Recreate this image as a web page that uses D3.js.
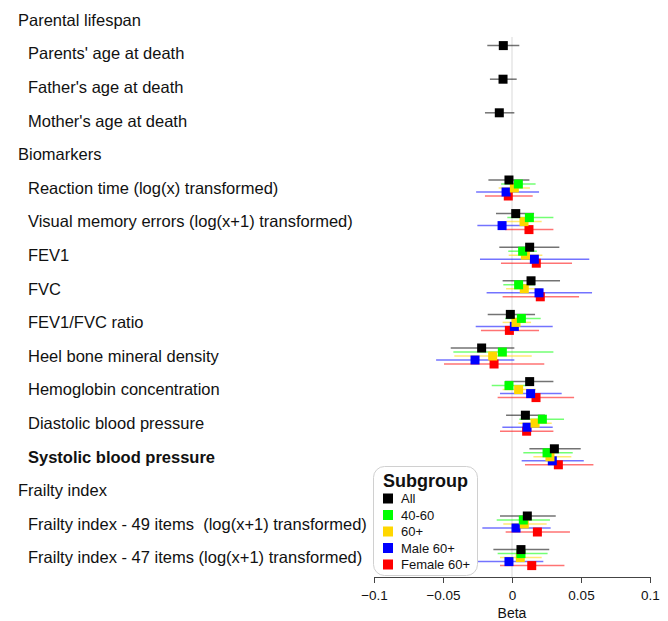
<!DOCTYPE html>
<html><head><meta charset="utf-8">
<script src="https://cdn.jsdelivr.net/npm/d3@7"></script>
<style>html,body{margin:0;padding:0;background:#fff;overflow:hidden}</style>
</head><body>
<svg id="chart" width="668" height="621"></svg>
<script>
// ---- data ----
const rowLabels = [
  "Parental lifespan",
  "Parents' age at death",
  "Father's age at death",
  "Mother's age at death",
  "Biomarkers",
  "Reaction time (log(x) transformed)",
  "Visual memory errors (log(x+1) transformed)",
  "FEV1",
  "FVC",
  "FEV1/FVC ratio",
  "Heel bone mineral density",
  "Hemoglobin concentration",
  "Diastolic blood pressure",
  "Systolic blood pressure",
  "Frailty index",
  "Frailty index - 49 items  (log(x+1) transformed)",
  "Frailty index - 47 items (log(x+1) transformed)"
];
const headerRows = ["Parental lifespan", "Biomarkers", "Frailty index"];
const boldRows = ["Systolic blood pressure"];
const items = rowLabels.filter(r => !headerRows.includes(r));

const subgroups = ["All", "40-60", "60+", "Male 60+", "Female 60+"];
const subgroupColors = ["#000000", "#00ff00", "#ffd700", "#0000ff", "#ff0000"];

const estAll   = [-0.0063,-0.0065,-0.0092,-0.0022, 0.0027, 0.0128, 0.0138,-0.0012,-0.0220, 0.0128, 0.0097, 0.0307, 0.0111, 0.0065];
const loAll    = [-0.0179,-0.0160,-0.0196,-0.0171,-0.0116,-0.0092,-0.0068,-0.0176,-0.0444,-0.0050,-0.0043, 0.0126,-0.0087,-0.0135];
const hiAll    = [ 0.0053, 0.0034, 0.0017, 0.0126, 0.0160, 0.0343, 0.0348, 0.0167, 0.0017, 0.0300, 0.0239, 0.0498, 0.0317, 0.0270];

const est4060  = [null,null,null, 0.0046, 0.0126, 0.0077, 0.0048, 0.0068,-0.0070,-0.0022, 0.0220, 0.0254, 0.0082, 0.0065];
const lo4060   = [null,null,null,-0.0079,-0.0034,-0.0027,-0.0063,-0.0050,-0.0425,-0.0147, 0.0053, 0.0082,-0.0111,-0.0104];
const hi4060   = [null,null,null, 0.0171, 0.0300, 0.0180, 0.0167, 0.0208, 0.0300, 0.0103, 0.0377, 0.0440, 0.0275, 0.0258];

const est60    = [null,null,null, 0.0017, 0.0087, 0.0097, 0.0089, 0.0029,-0.0140, 0.0048, 0.0167, 0.0275, 0.0089, 0.0060];
const lo60     = [null,null,null,-0.0097,-0.0040,-0.0024,-0.0043,-0.0068,-0.0418,-0.0068, 0.0046, 0.0155,-0.0063,-0.0087];
const hi60     = [null,null,null, 0.0130, 0.0215, 0.0220, 0.0215, 0.0138, 0.0143, 0.0174, 0.0288, 0.0430, 0.0251, 0.0215];

const estMale  = [null,null,null,-0.0043,-0.0072, 0.0162, 0.0196, 0.0017,-0.0268, 0.0135, 0.0109, 0.0292, 0.0029,-0.0022];
const loMale   = [null,null,null,-0.0260,-0.0251,-0.0232,-0.0184,-0.0263,-0.0550,-0.0087,-0.0070, 0.0070,-0.0215,-0.0304];
const hiMale   = [null,null,null, 0.0196, 0.0107, 0.0560, 0.0580, 0.0295, 0.0017, 0.0360, 0.0295, 0.0520, 0.0280, 0.0227];

const estFem   = [null,null,null,-0.0027, 0.0123, 0.0176, 0.0205,-0.0019,-0.0130, 0.0174, 0.0106, 0.0336, 0.0184, 0.0143];
const loFem    = [null,null,null,-0.0196,-0.0050,-0.0080,-0.0068,-0.0225,-0.0493,-0.0104,-0.0087, 0.0094,-0.0046,-0.0087];
const hiFem    = [null,null,null, 0.0150, 0.0300, 0.0435, 0.0486, 0.0196, 0.0234, 0.0450, 0.0300, 0.0590, 0.0420, 0.0380];

const xTicks = [-0.1, -0.05, 0, 0.05, 0.1];
const xTickLabels = ["\u22120.1", "\u22120.05", "0", "0.05", "0.1"];
const xTitle = "Beta";
const legendTitle = "Subgroup";

// ---- build records ----
const seriesEst = [estAll, est4060, est60, estMale, estFem];
const seriesLo  = [loAll, lo4060, lo60, loMale, loFem];
const seriesHi  = [hiAll, hi4060, hi60, hiMale, hiFem];
const records = [];
subgroups.forEach((g, gi) => {
  items.forEach((it, ii) => {
    const e = seriesEst[gi][ii];
    if (e == null) return;
    records.push({item: it, group: g, gi, est: e, lo: seriesLo[gi][ii], hi: seriesHi[gi][ii]});
  });
});

// ---- scales ----
const svg = d3.select("#chart");
const FONT = "'Liberation Sans', Arial, Helvetica, sans-serif";
const x = d3.scaleLinear().domain([-0.1, 0.1]).range([374, 650]);
const y = d3.scalePoint().domain(rowLabels).range([20, 557.6]);
const dy = d3.scalePoint().domain(subgroups).range([-8, 8]);
const color = d3.scaleOrdinal().domain(subgroups).range(subgroupColors);

// zero line
svg.append("line")
  .attr("x1", x(0)).attr("x2", x(0))
  .attr("y1", 37).attr("y2", 577)
  .attr("stroke", "#e6e6e6").attr("stroke-width", 1.5);

// row labels
svg.append("g").selectAll("text").data(rowLabels).join("text")
  .attr("x", d => headerRows.includes(d) ? 18 : 28)
  .attr("y", d => y(d))
  .attr("dy", "0.35em")
  .attr("font-family", FONT)
  .attr("font-size", 16.5)
  .attr("font-weight", d => boldRows.includes(d) ? "bold" : "normal")
  .attr("fill", "#111")
  .style("white-space", "pre")
  .text(d => d);

// CI lines
svg.append("g").selectAll("line").data(records).join("line")
  .attr("x1", d => x(d.lo)).attr("x2", d => x(d.hi))
  .attr("y1", d => y(d.item) + dy(d.group))
  .attr("y2", d => y(d.item) + dy(d.group))
  .attr("stroke", d => color(d.group))
  .attr("stroke-opacity", 0.55)
  .attr("stroke-width", 1.5);

// squares (draw last subgroup first so "All" is on top)
const S = 9;
svg.append("g").selectAll("rect")
  .data(records.slice().sort((a, b) => b.gi - a.gi)).join("rect")
  .attr("x", d => x(d.est) - S / 2)
  .attr("y", d => y(d.item) + dy(d.group) - S / 2)
  .attr("width", S).attr("height", S)
  .attr("fill", d => color(d.group));

// axis
const axis = d3.axisBottom(x).tickValues(xTicks)
  .tickFormat((d, i) => xTickLabels[i]).tickSize(6).tickSizeOuter(0);
const ax = svg.append("g").attr("transform", "translate(0,577)").call(axis);
ax.select(".domain").attr("stroke", "#444");
ax.selectAll(".tick line").attr("stroke", "#444");
ax.selectAll(".tick text").attr("font-family", FONT).attr("font-size", 13.5)
  .attr("fill", "#111").attr("dy", "1.03em");
svg.append("text").attr("x", x(0)).attr("y", 618).attr("text-anchor", "middle")
  .attr("font-family", FONT).attr("font-size", 14).attr("fill", "#111").text(xTitle);

// legend
const lg = svg.append("g");
lg.append("rect").attr("x", 373.5).attr("y", 466.5).attr("width", 104).attr("height", 109)
  .attr("rx", 11).attr("fill", "#fff").attr("stroke", "#d0d0d0").attr("stroke-width", 1);
lg.append("text").attr("x", 383).attr("y", 487).attr("font-family", FONT)
  .attr("font-size", 18).attr("font-weight", "bold").attr("fill", "#111").text(legendTitle);
const ly = d3.scalePoint().domain(subgroups).range([498.5, 564.5]);
lg.selectAll("rect.k").data(subgroups).join("rect").attr("class", "k")
  .attr("x", 383).attr("y", d => ly(d) - 5).attr("width", 10).attr("height", 10)
  .attr("fill", d => color(d));
lg.selectAll("text.k").data(subgroups).join("text").attr("class", "k")
  .attr("x", 401).attr("y", d => ly(d)).attr("dy", "0.35em")
  .attr("font-family", FONT).attr("font-size", 13).attr("fill", "#111").text(d => d);
</script>
</body></html>
